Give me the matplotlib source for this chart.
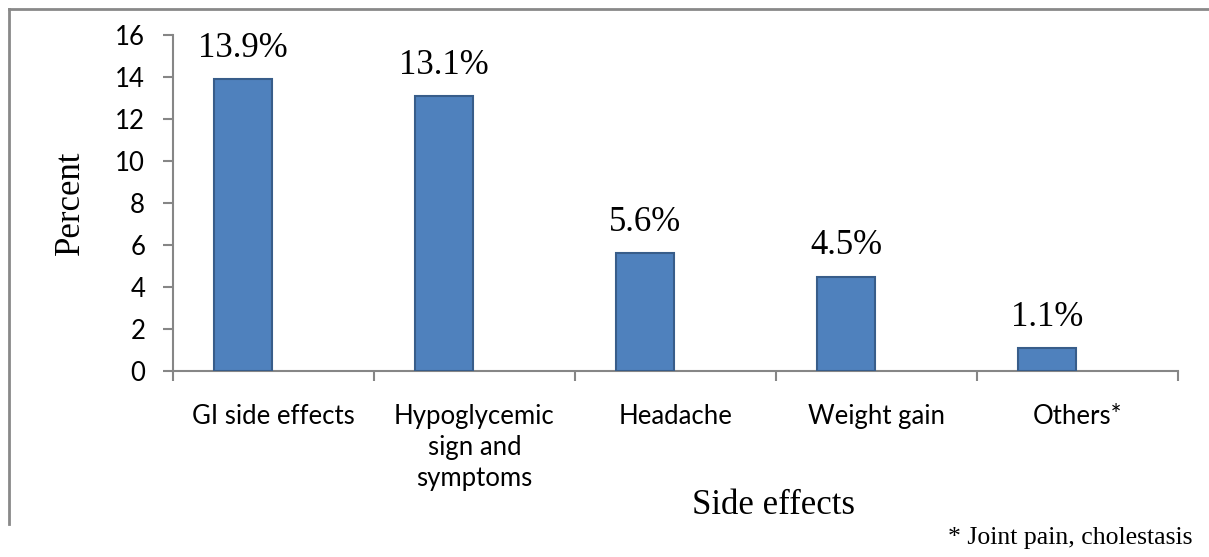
import matplotlib.pyplot as plt
import numpy as np
from matplotlib.lines import Line2D

# Data
categories = ['GI side effects', 'Hypoglycemic\nsign and\nsymptoms', 'Headache', 'Weight gain', 'Others*']
percent = [13.9, 13.1, 5.6, 4.5, 1.1]
bar_labels = ['13.9%', '13.1%', '5.6%', '4.5%', '1.1%']
yticks = [0, 2, 4, 6, 8, 10, 12, 14, 16]

serif = 'Liberation Serif'
sans = 'Lato'
grey = '#868686'

fig = plt.figure(figsize=(12.09, 5.57), dpi=100)
ax = fig.add_axes([173 / 1209, 1 - 371 / 557, (1178 - 173) / 1209, (371 - 35) / 557])

x = np.arange(len(categories))
# bars sit left of the category centre, as in the original
bx = x - 0.15
ax.bar(bx, percent, width=0.29, color='#4F81BD', edgecolor='#385D8A', linewidth=1.5, zorder=3)

for xi, v, lab in zip(bx, percent, bar_labels):
    ax.annotate(lab, (xi, v), xytext=(0, 16), textcoords='offset points',
                ha='center', va='baseline', fontsize=25, family=serif)

ax.set_xlim(-0.5, len(categories) - 0.5)
ax.set_ylim(0, 16)
ax.set_yticks(yticks)
ax.set_xticks(x)
ax.set_xticklabels(categories, family=sans, fontsize=18.5, linespacing=1.3, va='top')
ax.set_xticks(np.arange(-0.5, len(categories), 1), minor=True)
ax.tick_params(axis='x', which='major', length=0, pad=24)
ax.tick_params(axis='x', which='minor', length=7, width=1.5, color=grey, direction='out')
ax.tick_params(axis='y', length=7, width=1.5, color=grey, direction='out', pad=13, labelsize=18.5)
for t in ax.get_yticklabels():
    t.set_family(sans)

for s in ['top', 'right']:
    ax.spines[s].set_visible(False)
for s in ['left', 'bottom']:
    ax.spines[s].set_color(grey)
    ax.spines[s].set_linewidth(1.5)

fig.text(70 / 1209, 1 - 203 / 557, 'Percent', rotation=90, ha='center', va='center',
         fontsize=25, family=serif)
fig.text(773 / 1209, 1 - 505 / 557, 'Side effects', ha='center', va='center',
         fontsize=25, family=serif)
fig.text(1192 / 1209, 1 - 538 / 557, '* Joint pain, cholestasis', ha='right', va='center',
         fontsize=18.5, family=serif)

# chart border (only top and left visible in the crop)
fig.add_artist(Line2D([9 / 1209, 1], [1 - 9 / 557, 1 - 9 / 557], transform=fig.transFigure,
                      color='#898989', linewidth=2))
fig.add_artist(Line2D([9 / 1209, 9 / 1209], [1 - 9 / 557, 1 - 524 / 557], transform=fig.transFigure,
                      color='#898989', linewidth=2))

fig.savefig('out.png', dpi=100)
